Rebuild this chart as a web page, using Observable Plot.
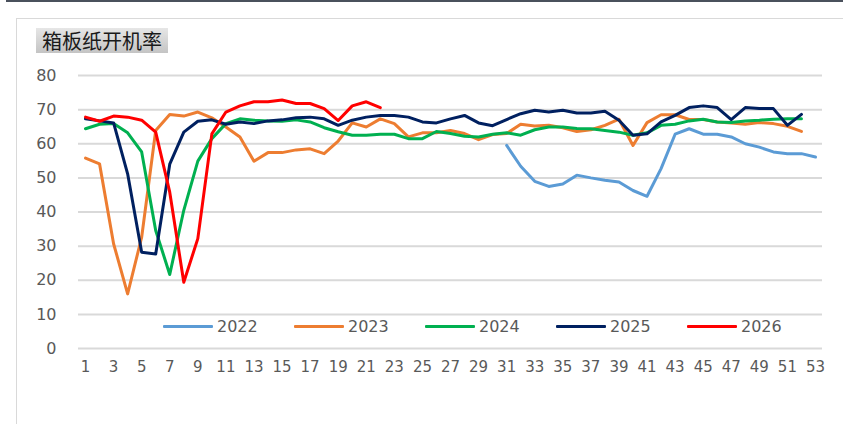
<!DOCTYPE html>
<html>
<head>
<meta charset="utf-8">
<script src="https://cdn.jsdelivr.net/npm/d3@7"></script>
<script src="https://cdn.jsdelivr.net/npm/@observablehq/plot@0.6"></script>
<style>
  html, body { margin: 0; padding: 0; background: #fff; }
  #wrap { position: relative; width: 843px; height: 424px; overflow: hidden; background: #fff; }
  #topbar { position: absolute; left: 6px; top: 0; width: 837px; height: 2px; background: #4a515c; }
  #frame { position: absolute; left: 16px; top: 18px; width: 840px; height: 420px; border-left: 1.5px solid #d9d9d9; border-top: 1.5px solid #d9d9d9; }
  #title { position: absolute; left: 36px; top: 28px; height: 25px; padding: 0 6px; line-height: 25px;
           font-family: "Noto Sans CJK SC", sans-serif; font-size: 20px; color: #1a1a1a;
           background: linear-gradient(#e6e6e6, #c4c4c4); }
  #chart { position: absolute; left: 0; top: 0; }
  #legend { position: absolute; left: 163px; top: 315px; display: flex; font-family: "DejaVu Sans", sans-serif; font-size: 16px; color: #595959; }
  .item { display: flex; align-items: center; width: 131px; height: 22px; }
  .swatch { display: inline-block; width: 50px; height: 3px; margin-right: 4px; border-radius: 1px; }
</style>
</head>
<body>
<div id="wrap">
  <div id="topbar"></div>
  <div id="frame"></div>
  <div id="chart"></div>
  <div id="title">箱板纸开机率</div>
  <div id="legend"></div>
</div>
<script>
const years = ["2022", "2023", "2024", "2025", "2026"];
const colors = ["#5B9BD5", "#ED7D31", "#00B050", "#002060", "#FF0000"];
const xTicks = d3.range(1, 54, 2);
const yTicks = [0, 10, 20, 30, 40, 50, 60, 70, 80];

// 2022 starts at week 31
const start2022 = 31;
const v2022 = [59.5, 53.4, 49, 47.5, 48.2, 50.8, 50, 49.3, 48.8, 46.3, 44.6, 52.7, 62.8, 64.4, 62.8, 62.8, 62, 60, 59, 57.6, 57.1, 57.1, 56.1];
const v2023 = [55.8, 54.1, 30.7, 16.0, 32.6, 63.9, 68.6, 68.1, 69.3, 67.6,
               64.9, 62, 54.9, 57.4, 57.4, 58.2, 58.5, 57.1, 60.8, 66.1,
               64.9, 67.3, 65.9, 62, 63.2, 63.2, 63.9, 63, 61.2, 62.7,
               63, 65.7, 65.2, 65.4, 64.7, 63.6, 64.1, 65.4, 67.2, 59.5,
               66.2, 68.5, 68.5, 67.1, 67.1, 66.4, 66.1, 65.7, 66.2, 65.9,
               65.1, 63.6];
const v2024 = [64.4, 65.7, 65.9, 63.2, 57.6, 34.6, 21.7, 40.5, 54.9, 61.5,
               65.9, 67.3, 66.9, 66.7, 66.6, 67, 66.4, 64.7, 63.5, 62.5,
               62.5, 62.8, 62.8, 61.5, 61.5, 63.6, 63, 62.2, 62, 62.8,
               63.2, 62.5, 64.1, 64.9, 64.9, 64.5, 64.4, 63.9, 63.4, 62.5,
               63.2, 65.4, 65.7, 66.7, 67.2, 66.4, 66.2, 66.7, 66.9, 67.2,
               67.3, 67.3];
const v2025 = [67.3, 66.7, 66.1, 51.2, 28.2, 27.7, 54, 63.4, 66.6, 67,
               65.7, 66.4, 65.9, 66.7, 67, 67.6, 67.8, 67.3, 65.4, 66.9,
               67.8, 68.3, 68.3, 67.8, 66.4, 66.1, 67.3, 68.3, 66.1, 65.3,
               67.1, 68.8, 69.8, 69.3, 69.8, 69, 69, 69.5, 66.9, 62.5,
               62.9, 66.4, 68.3, 70.6, 71.1, 70.6, 67.1, 70.6, 70.3, 70.3,
               65.4, 68.6];
const v2026 = [67.8, 66.6, 68.1, 67.8, 66.9, 63.4, 45.8, 19.4, 32.2, 62.9,
               69.3, 71.1, 72.3, 72.3, 72.8, 71.8, 71.8, 70.3, 66.8, 71.1,
               72.3, 70.6];

const series = [[v2022, start2022], [v2023, 1], [v2024, 1], [v2025, 1], [v2026, 1]];
const data = [];
series.forEach(([vals, s], i) => vals.forEach((v, j) => data.push({year: years[i], week: s + j, value: v})));

const chart = Plot.plot({
  width: 843,
  height: 424,
  marginLeft: 78,
  marginRight: 21,
  marginTop: 75,
  marginBottom: 76,
  style: {background: "transparent", color: "#595959", fontFamily: "DejaVu Sans, sans-serif"},
  x: {domain: [0.5, 53.5]},
  y: {domain: [0, 80]},
  color: {domain: years, range: colors},
  marks: [
    Plot.gridY(yTicks, {stroke: "#d9d9d9", strokeOpacity: 1, strokeWidth: 2}),
    Plot.axisY({ticks: yTicks, tickSize: 0, tickPadding: 22, fontSize: 16, label: null, fill: "#595959"}),
    Plot.axisX({ticks: xTicks, tickSize: 0, tickPadding: 13, fontSize: 15, label: null, tickFormat: d => String(d), fill: "#595959"}),
    Plot.line(data, {x: "week", y: "value", z: "year", stroke: "year", strokeWidth: 3, strokeLinejoin: "round", strokeLinecap: "round"})
  ]
});
document.getElementById("chart").appendChild(chart);

const legend = document.getElementById("legend");
years.forEach((y, i) => {
  const item = document.createElement("div");
  item.className = "item";
  const sw = document.createElement("span");
  sw.className = "swatch";
  sw.style.background = colors[i];
  const t = document.createElement("span");
  t.textContent = y;
  item.appendChild(sw);
  item.appendChild(t);
  legend.appendChild(item);
});
</script>
</body>
</html>
